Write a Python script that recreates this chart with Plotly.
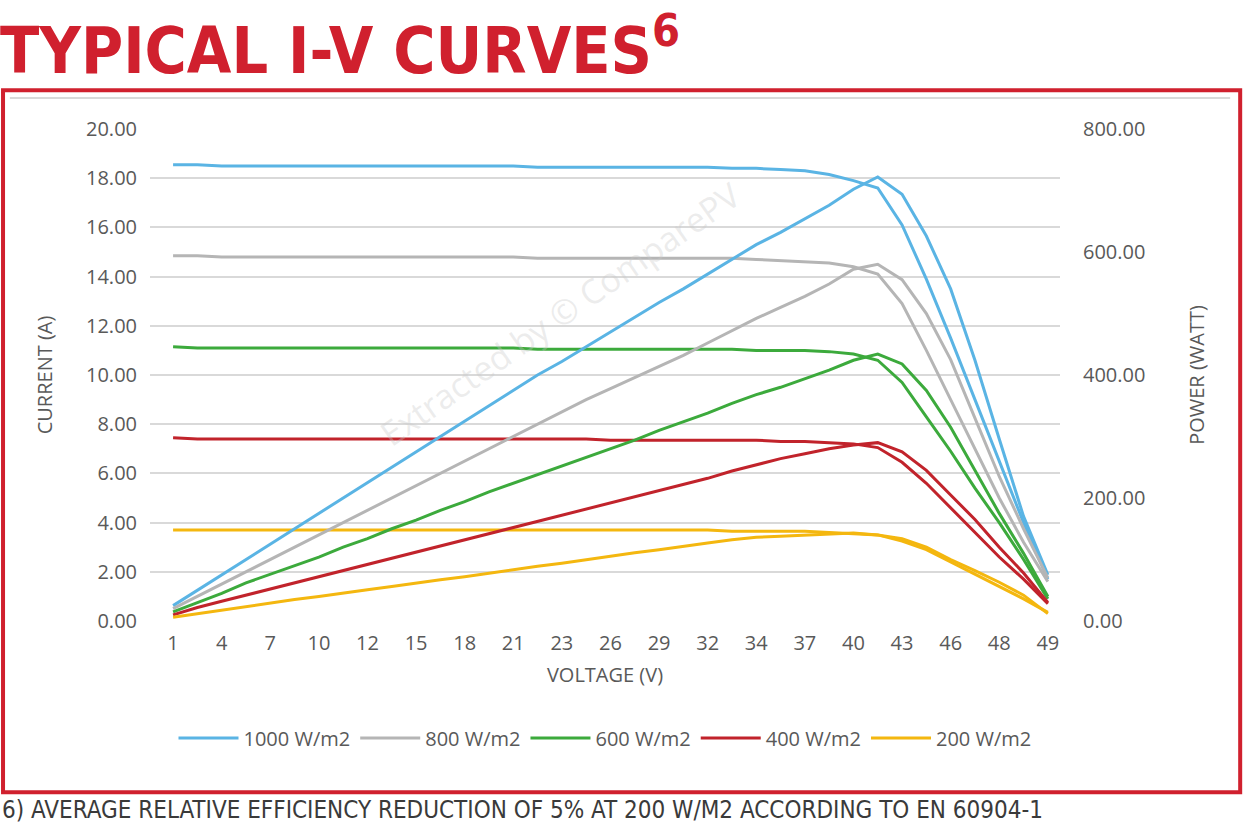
import plotly.graph_objects as go

xlabels = ["1","4","7","10","12","15","18","21","23","26","29","32","34","37","40","43","46","48","49"]
n = 37
series = ["1000 W/m2","800 W/m2","600 W/m2","400 W/m2","200 W/m2"]
colors = ["#5AB4E4","#B5B5B5","#3CAA3C","#C1232B","#F4B70F"]

cur1000 = [18.55,18.55,18.5,18.5,18.5,18.5,18.5,18.5,18.5,18.5,18.5,18.5,18.5,18.5,18.5,18.45,18.45,18.45,18.45,18.45,18.45,18.45,18.45,18.4,18.4,18.35,18.3,18.15,17.9,17.6,16.1,13.9,11.5,9.0,6.5,4.0,1.7]
cur800 = [14.85,14.85,14.8,14.8,14.8,14.8,14.8,14.8,14.8,14.8,14.8,14.8,14.8,14.8,14.8,14.75,14.75,14.75,14.75,14.75,14.75,14.75,14.75,14.75,14.7,14.65,14.6,14.55,14.4,14.1,12.9,11.0,9.0,7.0,5.0,3.2,1.6]
cur600 = [11.15,11.1,11.1,11.1,11.1,11.1,11.1,11.1,11.1,11.1,11.1,11.1,11.1,11.1,11.1,11.05,11.05,11.05,11.05,11.05,11.05,11.05,11.05,11.05,11.0,11.0,11.0,10.95,10.85,10.6,9.7,8.3,6.9,5.4,4.0,2.5,0.9]
cur400 = [7.45,7.4,7.4,7.4,7.4,7.4,7.4,7.4,7.4,7.4,7.4,7.4,7.4,7.4,7.4,7.4,7.4,7.4,7.35,7.35,7.35,7.35,7.35,7.35,7.35,7.3,7.3,7.25,7.2,7.05,6.45,5.6,4.6,3.6,2.6,1.7,0.7]
cur200 = [3.7,3.7,3.7,3.7,3.7,3.7,3.7,3.7,3.7,3.7,3.7,3.7,3.7,3.7,3.7,3.7,3.7,3.7,3.7,3.7,3.7,3.7,3.7,3.65,3.65,3.65,3.65,3.6,3.55,3.5,3.25,2.9,2.4,1.9,1.4,0.9,0.35]
pow1000 = [25,50,75,100,125,150,175,200,225,250,275,300,325,350,375,400,422,446,470,494,518,540,564,588,612,632,654,676,702,722,694,626,540,424,296,170,75]
pow800 = [20,40,60,80,100,120,140,160,180,200,220,240,260,280,300,320,340,360,378,396,414,432,452,472,492,510,528,548,572,580,555,500,425,330,235,150,70]
pow600 = [15,30,45,62,76,90,104,120,134,150,164,180,194,210,224,238,252,266,280,294,310,324,338,354,368,380,394,408,424,434,418,375,315,245,175,110,40]
pow400 = [10,22,32,42,52,62,72,82,92,102,112,122,132,142,152,162,172,182,192,202,212,222,232,244,254,264,272,280,286,290,275,245,205,165,120,78,30]
pow200 = [6,12,18,24,29,35,40,46,51,56,62,67,72,78,83,89,94,100,106,111,116,122,127,132,136,138,140,142,143,140,134,120,100,82,63,42,12]

currents = [cur1000,cur800,cur600,cur400,cur200]
powers = [pow1000,pow800,pow600,pow400,pow200]
xi = list(range(n))

fig = go.Figure()
for s,c,cu,pw in zip(series,colors,currents,powers):
    fig.add_trace(go.Scatter(x=xi,y=cu,mode="lines",name=s,legendgroup=s,line=dict(color=c,width=3)))
    fig.add_trace(go.Scatter(x=xi,y=pw,mode="lines",name=s,legendgroup=s,showlegend=False,yaxis="y2",line=dict(color=c,width=3)))

gfont = dict(family="Open Sans", size=20, color="#595959")
fig.update_layout(
    width=1243,height=826,paper_bgcolor="white",plot_bgcolor="white",
    margin=dict(l=150,r=183,t=129,b=205,autoexpand=False),
    font=gfont,
    xaxis=dict(range=[-0.95,36.5],tickvals=list(range(0,37,2)),ticktext=xlabels,showgrid=False,
               zeroline=False,showline=False,ticks="",tickfont=gfont,automargin=False,ticklabelstandoff=8,
               title=dict(text="VOLTAGE (V)",font=gfont,standoff=12)),
    yaxis=dict(range=[0,20],tickvals=[0,2,4,6,8,10,12,14,16,18,20],tickformat=".2f",automargin=False,
               gridcolor="#D9D9D9",gridwidth=1.5,zeroline=False,tickfont=gfont,ticks="",ticklabelstandoff=12,
               title=dict(text="CURRENT (A)",font=gfont,standoff=28)),
    yaxis2=dict(range=[0,800],overlaying="y",side="right",tickvals=[0,200,400,600,800],automargin=False,
                tickformat=".2f",showgrid=False,zeroline=False,tickfont=gfont,ticks="",ticklabelstandoff=22,
                title=dict(text="POWER (WATT)",font=gfont,standoff=45)),
    legend=dict(orientation="h",x=0.5,xanchor="center",y=-0.238,yanchor="middle",
                font=dict(family="Open Sans",size=20,color="#595959"),itemwidth=60,tracegroupgap=0),
    shapes=[
        dict(type="rect",xref="paper",yref="paper",x0=-0.1615,x1=1.198,y0=-0.348,y1=1.079,
             line=dict(color="#D0202E",width=4)),
        dict(type="line",xref="paper",yref="paper",x0=-0.154,x1=1.187,y0=1.063,y1=1.063,
             line=dict(color="#D9D9D9",width=2)),
    ],
    annotations=[
        dict(text="<b>TYPICAL I-V CURVES<sup>6</sup></b>",xref="paper",yref="paper",x=-0.167,y=1.258,
             xanchor="left",yanchor="top",showarrow=False,
             font=dict(family="DejaVu Sans Condensed, DejaVu Sans",size=64,color="#D0202E")),
        dict(text="6) AVERAGE RELATIVE EFFICIENCY REDUCTION OF 5% AT 200 W/M2 ACCORDING TO EN 60904-1",
             xref="paper",yref="paper",x=-0.165,y=-0.385,xanchor="left",yanchor="middle",showarrow=False,
             font=dict(family="DejaVu Sans Condensed, DejaVu Sans",size=24,color="#3a3a3a")),
        dict(text="Extracted by © ComparePV",xref="paper",yref="paper",x=0.45,y=0.33,textangle=-35,
             showarrow=False,font=dict(family="Open Sans",size=34,color="rgba(200,200,200,0.35)")),
    ],
)
fig.write_html("out.html", post_script="document.body.style.margin='0';",
               config={"displayModeBar": False})
